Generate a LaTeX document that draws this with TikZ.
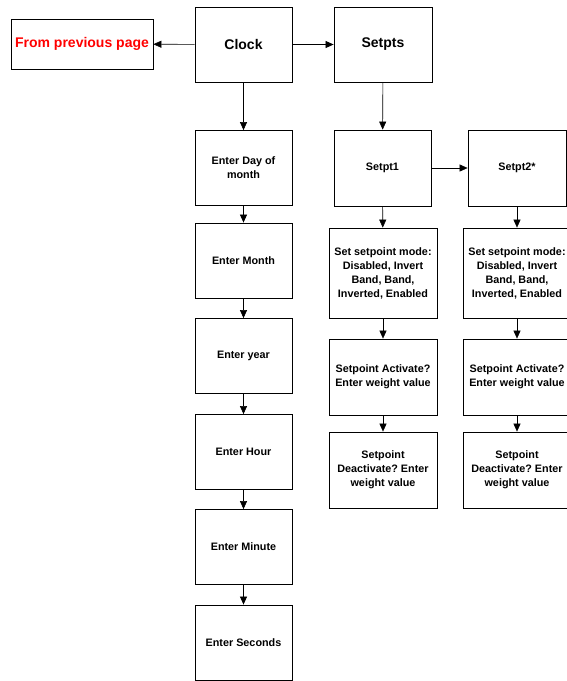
\documentclass[tikz,border=0pt]{standalone}
\usepackage{fontspec}
\setmainfont{Liberation Sans}
\usetikzlibrary{positioning,arrows.meta}
\frenchspacing

\begin{document}
\begin{tikzpicture}[x=1pt,y=-1pt]
    \tikzset{
        box/.style={draw,line width=0.8pt,inner sep=0pt,align=center,
            font=\fontsize{10.8}{14}\selectfont\bfseries,
            minimum width=97pt,minimum height=75pt},
        wide box/.style={box,minimum width=108pt,minimum height=76pt},
        top box/.style={box,font=\fontsize{14}{17}\selectfont\bfseries},
        link/.style={-{Triangle[length=8pt,width=7pt]},line width=0.6pt},
    }
    \useasboundingbox (0,0) rectangle (566,681);
    % top row
    \node[top box,minimum width=142pt,minimum height=50pt,text=red] (prev) at (82,44) {From previous page};
    \node[top box] (clock) at (243.5,44.5) {Clock};
    \node[top box,minimum width=98pt] (setpts) at (383,44.5) {Setpts};
    % clock column
    \node[box] (day) at (243.5,168) {Enter Day of\\month};
    \node[box] (month) at (243.5,260.5) {Enter Month};
    \node[box] (year) at (243.5,356) {Enter year};
    \node[box] (hour) at (243.5,452) {Enter Hour};
    \node[box] (minute) at (243.5,547) {Enter Minute};
    \node[box] (seconds) at (243.5,642.5) {Enter Seconds};
    % setpoints
    \node[box,minimum height=76pt] (sp1) at (382.5,168) {Setpt1};
    \node[box,minimum width=98pt,minimum height=76pt] (sp2) at (517,168) {Setpt2*};
    \node[wide box,minimum height=90pt] (mode1) at (383,273) {Set setpoint mode:\\Disabled, Invert\\Band, Band,\\Inverted, Enabled};
    \node[wide box,minimum height=90pt] (mode2) at (517,273) {Set setpoint mode:\\Disabled, Invert\\Band, Band,\\Inverted, Enabled};
    \node[wide box] (act1) at (383,377) {Setpoint Activate?\\Enter weight value};
    \node[wide box] (act2) at (517,377) {Setpoint Activate?\\Enter weight value};
    \node[wide box] (deact1) at (383,470) {Setpoint\\Deactivate? Enter\\weight value};
    \node[wide box] (deact2) at (517,470) {Setpoint\\Deactivate? Enter\\weight value};
    % links
    \draw[link] (clock) -- (prev);
    \draw[link] (clock) -- (setpts);
    \draw[link] (clock) -- (day);
    \draw[link] (day) -- (month);
    \draw[link] (month) -- (year);
    \draw[link] (year) -- (hour);
    \draw[link] (hour) -- (minute);
    \draw[link] (minute) -- (seconds);
    \draw[link] (setpts) -- (sp1);
    \draw[link] (sp1) -- (sp2);
    \draw[link] (sp1) -- (mode1);
    \draw[link] (mode1) -- (act1);
    \draw[link] (act1) -- (deact1);
    \draw[link] (sp2) -- (mode2);
    \draw[link] (mode2) -- (act2);
    \draw[link] (act2) -- (deact2);
\end{tikzpicture}
\end{document}
